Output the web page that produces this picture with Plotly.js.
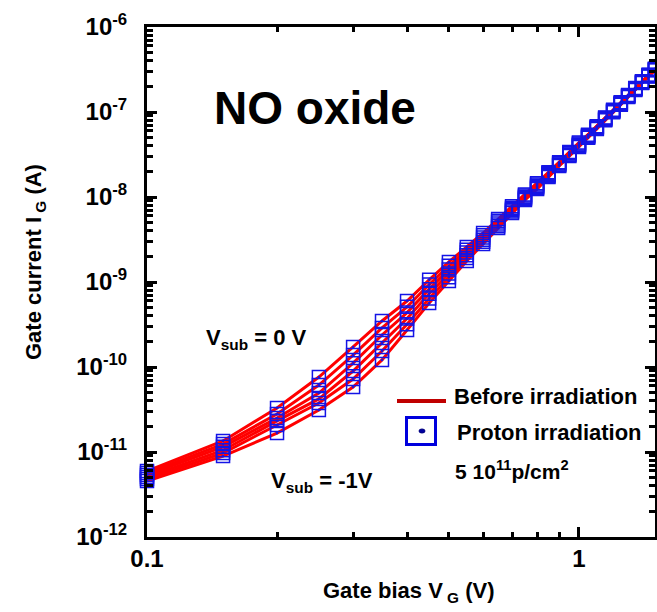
<!DOCTYPE html>
<html>
<head>
<meta charset="utf-8">
<script src="https://cdn.plot.ly/plotly-3.0.1.min.js"></script>
<style>html,body{margin:0;padding:0;background:#fff;}#chart{width:657px;height:612px;}</style>
</head>
<body>
<div id="chart"></div>
<script>
// Gate bias V_G (V)
const vg = [0.10,0.15,0.20,0.25,0.30,0.35,0.40,0.45,0.50,0.55,0.60,0.65,0.70,0.75,0.80,0.85,0.90,0.95,1.00,1.05,1.10,1.15,1.20,1.25,1.30,1.35,1.40,1.45,1.50];

// Gate current I_G (A) for substrate biases from 0 V (top) to -1 V (bottom)
const ig_vsub_0    = [5.97e-12,1.35e-11,3.30e-11,7.62e-11,1.72e-10,3.48e-10,5.97e-10,1.06e-9,1.72e-9,2.58e-9,3.77e-9,5.51e-9,7.76e-9,1.07e-8,1.45e-8,1.95e-8,2.57e-8,3.39e-8,4.37e-8,5.40e-8,6.80e-8,8.60e-8,1.06e-7,1.30e-7,1.59e-7,1.92e-7,2.30e-7,2.74e-7,3.23e-7];
const ig_vsub_m02  = [5.66e-12,1.24e-11,2.80e-11,6.14e-11,1.38e-10,2.88e-10,5.11e-10,9.33e-10,1.55e-9,2.39e-9,3.55e-9,5.25e-9,7.48e-9,1.04e-8,1.40e-8,1.90e-8,2.52e-8,3.31e-8,4.25e-8,5.31e-8,6.70e-8,8.48e-8,1.046e-7,1.284e-7,1.572e-7,1.90e-7,2.28e-7,2.72e-7,3.20e-7];
const ig_vsub_m04  = [5.36e-12,1.15e-11,2.51e-11,4.94e-11,1.11e-10,2.38e-10,4.37e-10,8.24e-10,1.40e-9,2.22e-9,3.34e-9,5.00e-9,7.23e-9,1.01e-8,1.36e-8,1.85e-8,2.47e-8,3.24e-8,4.15e-8,5.23e-8,6.60e-8,8.36e-8,1.032e-7,1.268e-7,1.554e-7,1.88e-7,2.26e-7,2.69e-7,3.18e-7];
const ig_vsub_m06  = [5.08e-12,1.05e-11,2.32e-11,4.21e-11,8.97e-11,1.91e-10,3.72e-10,7.26e-10,1.26e-9,2.06e-9,3.15e-9,4.75e-9,6.97e-9,9.79e-9,1.32e-8,1.81e-8,2.42e-8,3.17e-8,4.05e-8,5.15e-8,6.50e-8,8.24e-8,1.018e-7,1.252e-7,1.536e-7,1.86e-7,2.23e-7,2.67e-7,3.15e-7];
const ig_vsub_m08  = [4.81e-12,9.73e-12,2.08e-11,3.77e-11,7.23e-11,1.54e-10,3.18e-10,6.41e-10,1.14e-9,1.91e-9,2.97e-9,4.53e-9,6.73e-9,9.51e-9,1.28e-8,1.76e-8,2.37e-8,3.10e-8,3.97e-8,5.06e-8,6.40e-8,8.12e-8,1.004e-7,1.236e-7,1.518e-7,1.84e-7,2.21e-7,2.64e-7,3.13e-7];
const ig_vsub_m10  = [4.56e-12,8.97e-12,1.67e-11,3.12e-11,5.82e-11,1.21e-10,2.72e-10,5.66e-10,1.03e-9,1.77e-9,2.80e-9,4.32e-9,6.49e-9,9.23e-9,1.24e-8,1.72e-8,2.32e-8,3.03e-8,3.87e-8,4.98e-8,6.30e-8,8.00e-8,9.90e-8,1.22e-7,1.50e-7,1.82e-7,2.19e-7,2.62e-7,3.10e-7];

const seriesNames = ["Vsub = 0 V","Vsub = -0.2 V","Vsub = -0.4 V","Vsub = -0.6 V","Vsub = -0.8 V","Vsub = -1 V"];
const seriesData = [ig_vsub_0, ig_vsub_m02, ig_vsub_m04, ig_vsub_m06, ig_vsub_m08, ig_vsub_m10];

// tick labels
const xTickVals = [0.1, 1];
const xTickText = ["0.1", "1"];
const yTickVals = [1e-12, 1e-11, 1e-10, 1e-9, 1e-8, 1e-7, 1e-6];
const yTickText = ["10<sup>-12</sup>","10<sup>-11</sup>","10<sup>-10</sup>","10<sup>-9</sup>","10<sup>-8</sup>","10<sup>-7</sup>","10<sup>-6</sup>"];

const xMinor = [0.2,0.3,0.4,0.5,0.6,0.7,0.8,0.9];
const yMinor = [];
for (let e = -12; e < -6; e++) for (let m = 2; m <= 9; m++) yMinor.push(m * Math.pow(10, e));

const FONT = "Liberation Sans, Arial, Helvetica, sans-serif";

const traces = [];
seriesData.forEach((ys, i) => {
  traces.push({
    x: vg, y: ys, type: "scatter", mode: "lines", name: "Before irradiation, " + seriesNames[i],
    line: {color: "#ff0000", width: 3}, hoverinfo: "skip"
  });
});
seriesData.forEach((ys, i) => {
  traces.push({
    x: vg, y: ys, type: "scatter", mode: "markers", name: "Proton irradiation, " + seriesNames[i],
    marker: {symbol: "square-open-dot", size: 13, color: "#1414e6", line: {width: 1.5, color: "#1414e6"}},
    cliponaxis: false, hoverinfo: "skip"
  });
});

// pixel -> paper helpers (plot area: x 147..655, y 27..537)
const L = 147, R = 655, T = 27, B = 537;
const px = v => (v - L) / (R - L);
const py = v => (B - v) / (B - T);

const layout = {
  width: 657, height: 612,
  margin: {l: L, r: 657 - R, t: T, b: 612 - B, pad: 0},
  paper_bgcolor: "#ffffff", plot_bgcolor: "#ffffff",
  showlegend: false,
  font: {family: FONT, color: "#000"},
  xaxis: {
    type: "log", range: [-1, Math.log10(1.5)],
    tickmode: "array", tickvals: xTickVals, ticktext: xTickText,
    ticks: "inside", ticklen: 10, tickwidth: 3, tickcolor: "#000",
    showline: true, linewidth: 3, linecolor: "#000", mirror: "allticks",
    showgrid: false, zeroline: false,
    tickfont: {family: FONT, size: 24, weight: "bold", color: "#000"},
    ticklabelstandoff: -2,
    minor: {tickmode: "array", tickvals: xMinor, ticks: "inside", ticklen: 5, tickwidth: 3, tickcolor: "#000", showgrid: false}
  },
  yaxis: {
    type: "log", range: [-12, -6],
    tickmode: "array", tickvals: yTickVals, ticktext: yTickText,
    ticks: "inside", ticklen: 10, tickwidth: 3, tickcolor: "#000",
    showline: true, linewidth: 3, linecolor: "#000", mirror: "allticks",
    showgrid: false, zeroline: false,
    tickfont: {family: FONT, size: 24, weight: "bold", color: "#000"},
    ticklabelstandoff: 12,
    minor: {tickmode: "array", tickvals: yMinor, ticks: "inside", ticklen: 6, tickwidth: 3, tickcolor: "#000", showgrid: false}
  },
  shapes: [
    {type: "line", xref: "paper", yref: "paper", x0: px(397), x1: px(446), y0: py(401), y1: py(401), line: {color: "#c00000", width: 4}},
    {type: "rect", xref: "paper", yref: "paper", x0: px(406.5), x1: px(435.5), y0: py(417.5), y1: py(444.5), line: {color: "#0000dd", width: 3}, fillcolor: "rgba(0,0,0,0)"},
    {type: "circle", xref: "paper", yref: "paper", x0: px(419), x1: px(425), y0: py(429), y1: py(433), line: {color: "#000080", width: 1}, fillcolor: "#0000a0"}
  ],
  annotations: [
    {text: "NO oxide", xref: "paper", yref: "paper", x: px(212), y: py(108), xanchor: "left", yanchor: "middle", showarrow: false,
     font: {family: FONT, size: 46, weight: "bold", color: "#000"}},
    {text: "V<sub>sub</sub> = 0 V", xref: "paper", yref: "paper", x: px(204), y: py(339), xanchor: "left", yanchor: "middle", showarrow: false,
     font: {family: FONT, size: 22, weight: "bold", color: "#000"}},
    {text: "V<sub>sub</sub> = -1V", xref: "paper", yref: "paper", x: px(269), y: py(482), xanchor: "left", yanchor: "middle", showarrow: false,
     font: {family: FONT, size: 22, weight: "bold", color: "#000"}},
    {text: "Before irradiation", xref: "paper", yref: "paper", x: px(452), y: py(396), xanchor: "left", yanchor: "middle", showarrow: false,
     font: {family: FONT, size: 22, weight: "bold", color: "#000"}},
    {text: "Proton irradiation", xref: "paper", yref: "paper", x: px(455), y: py(432), xanchor: "left", yanchor: "middle", showarrow: false,
     font: {family: FONT, size: 22, weight: "bold", color: "#000"}},
    {text: "5 10<sup>11</sup>p/cm<sup>2</sup>", xref: "paper", yref: "paper", x: px(453), y: py(470), xanchor: "left", yanchor: "middle", showarrow: false,
     font: {family: FONT, size: 21, weight: "bold", color: "#000"}},
    {text: "Gate current I<sub> G</sub> (A)", xref: "paper", yref: "paper", x: px(35), y: py(262), xanchor: "center", yanchor: "middle", textangle: -90, showarrow: false,
     font: {family: FONT, size: 22, weight: "bold", color: "#000"}},
    {text: "Gate bias V<sub> G</sub> (V)", xref: "paper", yref: "paper", x: px(409), y: py(592), xanchor: "center", yanchor: "middle", showarrow: false,
     font: {family: FONT, size: 22, weight: "bold", color: "#000"}}
  ]
};

Plotly.newPlot("chart", traces, layout, {displayModeBar: false, staticPlot: true});
</script>
</body>
</html>
